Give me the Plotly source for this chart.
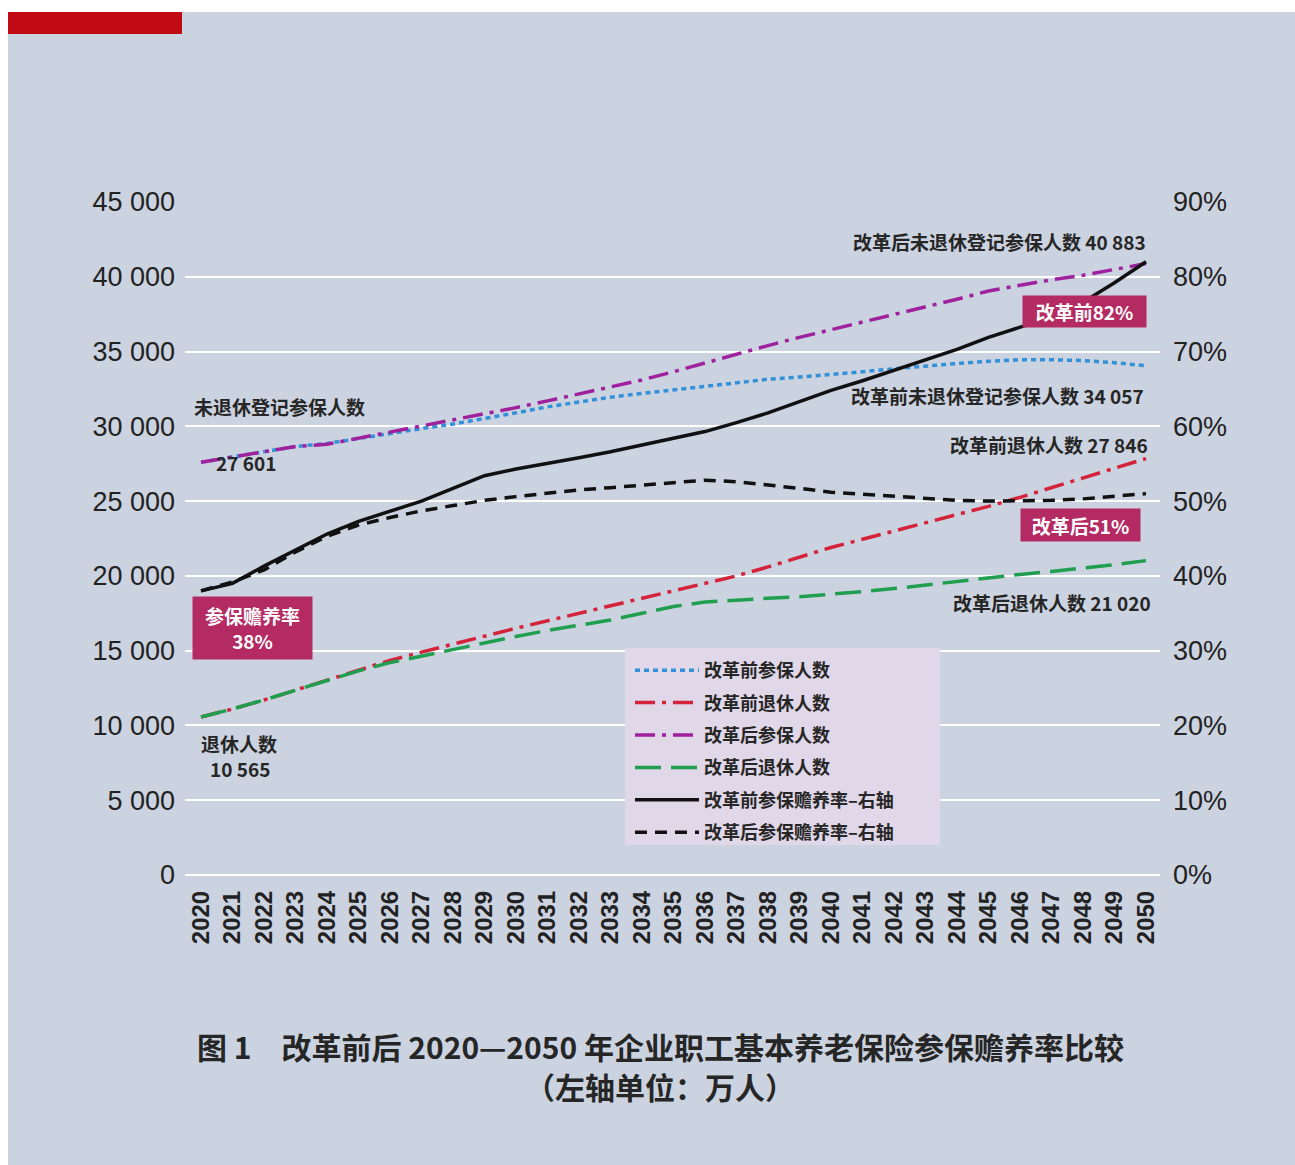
import plotly.graph_objects as go

# ---------------- data ----------------
YEARS = list(range(2020, 2051))

# 改革前参保人数 (未退休登记参保人数, 万人)
before_insured = [27601, 27950, 28350, 28650, 28850, 29200, 29550, 29850, 30150, 30500,
                  30900, 31300, 31650, 31950, 32200, 32450, 32700, 32950, 33150, 33300,
                  33450, 33650, 33850, 34050, 34200, 34350, 34450, 34450, 34400, 34250, 34057]
# 改革前退休人数
before_retired = [10565, 11100, 11700, 12350, 13000, 13700, 14350, 14900, 15450, 16000,
                  16500, 17000, 17500, 17950, 18450, 18950, 19450, 20000, 20600, 21250,
                  21900, 22450, 23000, 23500, 24050, 24650, 25250, 25900, 26550, 27200, 27846]
# 改革后参保人数
after_insured = [27601, 27950, 28350, 28650, 28800, 29200, 29600, 30000, 30400, 30800,
                 31250, 31700, 32150, 32600, 33100, 33650, 34250, 34850, 35400, 35950,
                 36450, 36950, 37450, 37950, 38500, 39050, 39450, 39800, 40100, 40500, 40883]
# 改革后退休人数
after_retired = [10565, 11100, 11700, 12350, 13000, 13650, 14200, 14650, 15050, 15500,
                 15950, 16350, 16700, 17050, 17500, 17950, 18250, 18400, 18500, 18600,
                 18750, 18950, 19150, 19400, 19650, 19900, 20100, 20300, 20500, 20750, 21020]
# 改革前参保赡养率 (%) - 右轴
before_ratio = [38.0, 39.0, 41.3, 43.5, 45.6, 47.3, 48.6, 50.0, 51.7, 53.4,
                54.3, 55.0, 55.8, 56.6, 57.5, 58.4, 59.3, 60.5, 61.8, 63.3,
                64.8, 66.1, 67.5, 68.9, 70.3, 71.9, 73.3, 74.6, 76.6, 79.2, 82.0]
# 改革后参保赡养率 (%) - 右轴
after_ratio = [38.0, 39.2, 40.8, 43.2, 45.3, 46.8, 47.8, 48.7, 49.4, 50.1,
               50.6, 51.1, 51.5, 51.8, 52.1, 52.4, 52.8, 52.6, 52.2, 51.7,
               51.2, 50.9, 50.6, 50.3, 50.1, 50.0, 50.0, 50.1, 50.3, 50.6, 51.0]

LEFT_TICKS = [0, 5000, 10000, 15000, 20000, 25000, 30000, 35000, 40000, 45000]
RIGHT_TICKS = [0, 10, 20, 30, 40, 50, 60, 70, 80, 90]

SERIES_NAMES = ["改革前参保人数", "改革前退休人数", "改革后参保人数", "改革后退休人数",
                "改革前参保赡养率–右轴", "改革后参保赡养率–右轴"]


def fmt(v):
    return f"{v:,}".replace(",", " ")


# ---------------- layout helpers ----------------
W, H = 1295, 1165
PL, PR, PT, PB = 185, 1160, 202, 875
BG = "#ccd3e0"
CJK = "Noto Sans CJK SC"
TXT = "#262626"
BOX = "#b42a62"


def px(x):
    return (x - PL) / (PR - PL)


def py(y):
    return (PB - y) / (PB - PT)


fig = go.Figure()

styles = [
    dict(color="#3291d8", dash="5px,4px", width=3.5),
    dict(color="#d4233a", dash="20px,7px,4px,7px", width=3.5),
    dict(color="#a0219e", dash="20px,7px,4px,7px", width=3.5),
    dict(color="#1f9f4f", dash="26px,10px", width=3.5),
    dict(color="#111111", dash="solid", width=3.5),
    dict(color="#111111", dash="12px,8px", width=3.5),
]
data = [before_insured, before_retired, after_insured, after_retired, before_ratio, after_ratio]
axes = ["y", "y", "y", "y", "y2", "y2"]

for name, vals, st, ax in zip(SERIES_NAMES, data, styles, axes):
    fig.add_trace(go.Scatter(x=YEARS, y=vals, name=name, mode="lines", line=st,
                             yaxis=ax, legendgroup=name))

annos = []
# value labels
annos.append(dict(x=YEARS[-1], y=after_insured[-1], xref="x", yref="y", xanchor="right",
                  yanchor="middle", yshift=22, xshift=2,
                  text=f"改革后未退休登记参保人数 {fmt(after_insured[-1])}"))
annos.append(dict(x=YEARS[-1], y=before_insured[-1], xref="x", yref="y", xanchor="right",
                  yanchor="middle", yshift=-30, text=f"改革前未退休登记参保人数 {fmt(before_insured[-1])}"))
annos.append(dict(x=YEARS[-1], y=before_retired[-1], xref="x", yref="y", xanchor="right",
                  yanchor="middle", yshift=14, xshift=4, text=f"改革前退休人数 {fmt(before_retired[-1])}"))
annos.append(dict(x=YEARS[-1], y=after_retired[-1], xref="x", yref="y", xanchor="right",
                  yanchor="middle", yshift=-42, xshift=7, text=f"改革后退休人数 {fmt(after_retired[-1])}"))
annos.append(dict(x=YEARS[0], y=before_insured[0], xref="x", yref="y", xanchor="left",
                  yanchor="middle", yshift=56, xshift=-9, text="未退休登记参保人数"))
annos.append(dict(x=YEARS[0], y=before_insured[0], xref="x", yref="y", xanchor="left",
                  yanchor="middle", yshift=0, xshift=13, text=fmt(before_insured[0])))
annos.append(dict(x=YEARS[0], y=before_retired[0], xref="x", yref="y", xanchor="center",
                  yanchor="middle", yshift=-27, xshift=38, text="退休人数"))
annos.append(dict(x=YEARS[0], y=before_retired[0], xref="x", yref="y", xanchor="center",
                  yanchor="middle", yshift=-52, xshift=39, text=fmt(before_retired[0])))
for a in annos:
    a.update(showarrow=False, font=dict(family=CJK, size=19, color=TXT, weight="bold"))

boxes = [
    dict(x=YEARS[0], y=before_ratio[0], xshift=51.5, yshift=-37, w=119, h=62,
         text=f"参保赡养率<br>{before_ratio[0]:.0f}%"),
    dict(x=YEARS[-1], y=before_ratio[-1], xshift=-61.5, yshift=-50, w=123, h=31,
         text=f"改革前{before_ratio[-1]:.0f}%"),
    dict(x=YEARS[-1], y=after_ratio[-1], xshift=-65.5, yshift=-31.5, w=119, h=32,
         text=f"改革后{after_ratio[-1]:.0f}%"),
]
for b in boxes:
    annos.append(dict(x=b["x"], y=b["y"], xref="x", yref="y2", xshift=b["xshift"],
                      yshift=b["yshift"], xanchor="center", yanchor="middle", showarrow=False,
                      width=b["w"], height=b["h"], bgcolor=BOX, borderpad=0,
                      text=b["text"], font=dict(family=CJK, size=19, color="white", weight="bold")))

# caption
annos.append(dict(x=px(660), y=py(1046), xref="paper", yref="paper", showarrow=False,
                  xanchor="center", yanchor="middle",
                  text="图 1　改革前后 2020—2050 年企业职工基本养老保险参保赡养率比较",
                  font=dict(family=CJK, size=30, color=TXT, weight="bold")))
annos.append(dict(x=px(660), y=py(1086), xref="paper", yref="paper", showarrow=False,
                  xanchor="center", yanchor="middle", text="（左轴单位：万人）",
                  font=dict(family=CJK, size=30, color=TXT, weight="bold")))

shapes = [
    # white top and left strips
    dict(type="rect", xref="paper", yref="paper", x0=px(0), x1=px(W), y0=py(0), y1=py(12),
         fillcolor="white", line=dict(width=0), layer="above"),
    dict(type="rect", xref="paper", yref="paper", x0=px(0), x1=px(8), y0=py(0), y1=py(H),
         fillcolor="white", line=dict(width=0), layer="above"),
    # red bar
    dict(type="rect", xref="paper", yref="paper", x0=px(8), x1=px(182), y0=py(12), y1=py(34),
         fillcolor="#c20a14", line=dict(width=0), layer="above"),
    # legend background
    dict(type="rect", xref="paper", yref="paper", x0=px(625), x1=px(940), y0=py(648), y1=py(845),
         fillcolor="#e0d7e8", line=dict(width=0), layer="above"),
]

fig.update_layout(
    width=W, height=H,
    margin=dict(l=PL, r=W - PR, t=PT, b=H - PB, pad=0),
    paper_bgcolor=BG, plot_bgcolor=BG,
    showlegend=True,
    legend=dict(x=px(630), y=py(652), xanchor="left", yanchor="top",
                bgcolor="rgba(0,0,0,0)", borderwidth=0, tracegroupgap=6,
                font=dict(family=CJK, size=18, color=TXT, weight="bold"),
                itemwidth=64),
    xaxis=dict(range=[2020 - 16 / 31.5, 2050 + 14 / 31.5], tickmode="array", tickvals=YEARS,
               ticktext=[str(y) for y in YEARS], tickangle=-90, showgrid=False,
               zeroline=False, showline=False, ticklabelstandoff=10,
               tickfont=dict(family="Liberation Sans", size=24, color="#222222", weight="bold")),
    yaxis=dict(range=[0, 45000], tickmode="array", tickvals=LEFT_TICKS,
               ticktext=[fmt(v) for v in LEFT_TICKS], showgrid=True, gridcolor="white",
               gridwidth=2, zeroline=True, zerolinecolor="white", zerolinewidth=2,
               showline=False, ticklabelstandoff=9,
               tickfont=dict(family="Liberation Sans", size=27, color="#222222")),
    yaxis2=dict(range=[0, 90], overlaying="y", side="right", tickmode="array",
                tickvals=RIGHT_TICKS, ticktext=[f"{v}%" for v in RIGHT_TICKS],
                showgrid=False, zeroline=False, showline=False, ticklabelstandoff=12,
                tickfont=dict(family="Liberation Sans", size=27, color="#222222")),
    annotations=annos,
    shapes=shapes,
)

fig.write_html("out.html")
